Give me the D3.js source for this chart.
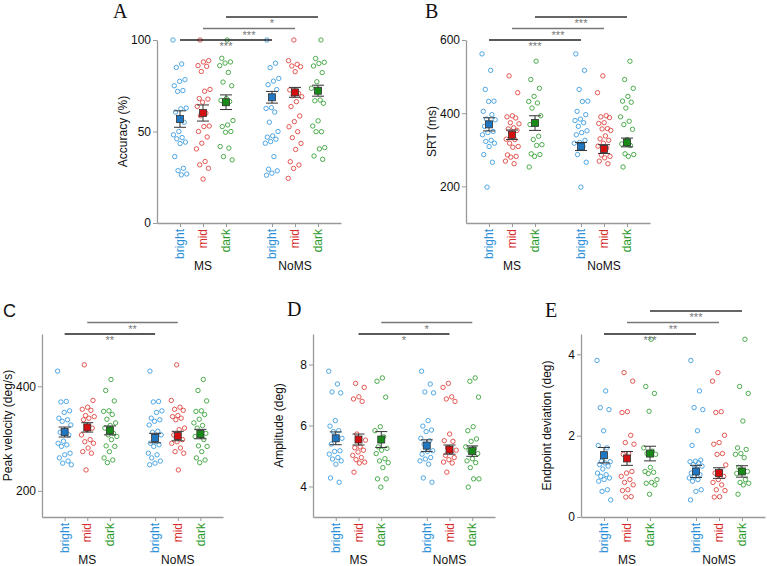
<!DOCTYPE html>
<html>
<head>
<meta charset="utf-8">
<script src="https://cdn.jsdelivr.net/npm/d3@7"></script>
<style>
  body { margin: 0; background: #fff; }
  svg { display: block; font-family: "Liberation Sans", Arial, sans-serif; }
</style>
</head>
<body>
<svg id="chart" width="767" height="566"></svg>
<script>
// groups / conditions
const groups = ['MS', 'NoMS']
const conditions = ['bright', 'mid', 'dark']
const pointColors = ['#3d9de0', '#e0453f', '#3aa33a']
const meanColors = ['#1f77c2', '#d40f0f', '#178a17']
const labelColors = ['#2b8fd8', '#d62a2a', '#2a9a2a']

// A - Accuracy (%)
const accMSBright = [100, 86.9, 85, 78.3, 77.4, 75, 72.4, 71.9, 62.8, 62.4, 60.6, 55, 50, 48.2, 46.7, 46, 44.2, 43.4, 36.3, 29.9, 28.6, 26.8, 26.3]
const accMSMid = [100, 88.7, 88, 86, 85.6, 82.8, 73, 72, 68, 67.7, 66, 63.7, 60, 58.6, 53, 52.7, 50, 47, 43.6, 40.5, 33.6, 31.8, 29.9, 24]
const accMSDark = [100, 90, 88, 87.4, 86, 82.3, 77, 75, 68, 67, 66.4, 65.5, 56, 53.6, 52.7, 50, 49.6, 41.8, 40.9, 36.3, 34.5]
const accNoMSBright = [100, 87.3, 84.9, 79, 77.5, 75.6, 72.9, 63, 62.6, 60.6, 55.1, 50, 47.6, 46.9, 45.8, 44.5, 43.6, 36.3, 29.4, 28.5, 27.2, 26.1]
const accNoMSMid = [100, 88.7, 86.7, 85.8, 85.4, 82.7, 72.7, 70.9, 70, 69, 66.3, 63.6, 58.5, 55.4, 52.6, 49.9, 46.6, 43.5, 40.2, 33.5, 31.7, 29.8, 24.4]
const accNoMSDark = [100, 89.9, 87.8, 87.2, 85.8, 82.2, 77.2, 73.6, 67.2, 66.8, 65.4, 55.8, 53, 49.9, 49.9, 41.2, 40.5, 36.6, 34.8]
const accMeans = [56.8, 60.1, 66, 68.7, 71.4, 72.3]
const accSem = [4.5, 4.4, 4, 3.2, 2.7, 3]
const accTicks = [0, 50, 100]

// B - SRT (ms)
const srtMSBright = [562, 517, 465, 433, 432, 405, 396, 384, 382, 371, 364, 350, 347, 341, 326, 323, 318, 309, 287, 266, 198]
const srtMSMid = [502, 456, 393, 390, 387, 374, 371, 360, 357, 353, 337, 329, 328, 318, 309, 307, 286, 282, 280, 269, 262]
const srtMSDark = [542, 492, 468, 446, 432, 428, 414, 393, 378, 369, 337, 328, 314, 312, 289, 287, 282, 253]
const srtNoMSBright = [562, 517, 465, 433, 432, 405, 396, 384, 380, 374, 364, 352, 347, 341, 326, 320, 318, 309, 287, 266, 198]
const srtNoMSMid = [502, 456, 393, 390, 388, 374, 372, 358, 357, 353, 338, 330, 326, 318, 310, 305, 286, 282, 278, 269, 262]
const srtNoMSDark = [542, 492, 468, 446, 433, 430, 414, 390, 378, 369, 356, 328, 316, 312, 289, 287, 282, 253]
const srtMeans = [369.5, 341, 373, 309, 302, 320]
const srtSem = [18, 13, 20, 11, 12, 12]
const srtTicks = [200, 400, 600]

// C - Peak velocity (deg/s)
const pvMSBright = [429, 371, 370, 353, 350, 339, 336, 333, 326, 314, 312, 307, 295, 291, 288, 285, 272, 269, 263, 257, 253, 250]
const pvMSMid = [441, 373, 360, 356, 354, 344, 342, 339, 336, 320, 317, 307, 298, 294, 291, 282, 275, 272, 240]
const pvMSDark = [413, 392, 372, 353, 352, 346, 337, 330, 325, 320, 310, 307, 304, 298, 286, 285, 275, 263, 259, 254]
const pvNoMSBright = [429, 371, 370, 353, 350, 339, 336, 333, 326, 314, 312, 307, 295, 291, 288, 285, 272, 269, 263, 257, 253, 250]
const pvNoMSMid = [441, 373, 360, 356, 354, 344, 342, 339, 336, 320, 317, 307, 298, 294, 291, 282, 275, 272, 240]
const pvNoMSDark = [413, 392, 372, 353, 352, 346, 337, 330, 325, 320, 310, 307, 304, 298, 286, 285, 275, 263, 259, 254]
const pvMeans = [312.5, 321.4, 315.6, 301, 304.8, 308.6]
const pvSem = [9.5, 9, 8.5, 9, 9, 9]
const pvTicks = [200, 400]

// D - Amplitude (deg)
const ampMSBright = [7.78, 7.36, 7.1, 7.07, 6.16, 5.98, 5.83, 5.8, 5.58, 5.54, 5.39, 5.17, 5.15, 5.06, 4.95, 4.9, 4.84, 4.73, 4.28, 4.14]
const ampMSMid = [7.38, 7.25, 6.94, 6.87, 6.79, 5.72, 5.52, 5.3, 5.27, 5.19, 5.13, 5.02, 4.95, 4.88, 4.8, 4.77, 4.47]
const ampMSDark = [7.56, 7.45, 6.93, 5.96, 5.83, 5.63, 5.3, 5.25, 5.19, 5.08, 4.91, 4.84, 4.78, 4.62, 4.25, 4.25, 3.98]
const ampNoMSBright = [7.78, 7.36, 7.1, 7.07, 6.16, 5.98, 5.85, 5.8, 5.58, 5.5, 5.39, 5.17, 5.15, 5.06, 4.95, 4.9, 4.84, 4.73, 4.28, 4.14]
const ampNoMSMid = [7.38, 7.25, 6.94, 6.87, 6.79, 5.72, 5.5, 5.48, 5.27, 5.19, 5.13, 5.02, 4.95, 4.88, 4.8, 4.77, 4.47]
const ampNoMSDark = [7.56, 7.45, 6.93, 5.96, 5.83, 5.56, 5.48, 5.3, 5.25, 5.19, 5.08, 4.91, 4.84, 4.78, 4.62, 4.25, 4.25, 3.98]
const ampMeans = [5.58, 5.54, 5.54, 5.34, 5.21, 5.16]
const ampSem = [0.21, 0.18, 0.26, 0.19, 0.15, 0.17]
const ampTicks = [4, 6, 8]

// E - Endpoint deviation (deg)
const edMSBright = [3.85, 3.1, 2.69, 2.64, 2.12, 1.76, 1.7, 1.37, 1.36, 1.33, 1.29, 1.25, 1.18, 1.08, 1.04, 1.0, 0.96, 0.92, 0.88, 0.67, 0.63, 0.42]
const edMSMid = [3.55, 3.34, 2.59, 2.57, 2.01, 1.83, 1.79, 1.56, 1.54, 1.12, 1.08, 1.0, 0.92, 0.85, 0.79, 0.67, 0.65, 0.5, 0.49]
const edMSDark = [4.37, 3.21, 3.04, 2.6, 1.7, 1.62, 1.56, 1.54, 1.22, 1.12, 1.1, 1.07, 0.92, 0.85, 0.83, 0.79, 0.56]
const edNoMSBright = [3.85, 3.1, 2.69, 2.64, 2.12, 1.76, 1.4, 1.37, 1.36, 1.33, 1.29, 1.25, 1.18, 1.08, 1.04, 1.0, 0.96, 0.92, 0.88, 0.67, 0.63, 0.42]
const edNoMSMid = [3.55, 3.34, 2.59, 2.57, 2.01, 1.83, 1.79, 1.56, 1.54, 1.28, 1.12, 1.08, 1.0, 0.92, 0.85, 0.79, 0.67, 0.65, 0.5, 0.49]
const edNoMSDark = [4.37, 3.21, 3.04, 2.36, 1.7, 1.66, 1.56, 1.54, 1.46, 1.22, 1.12, 1.1, 1.07, 0.92, 0.85, 0.83, 0.79, 0.56]
const edMeans = [1.52, 1.44, 1.56, 1.12, 1.08, 1.12]
const edSem = [0.19, 0.17, 0.18, 0.15, 0.13, 0.14]
const edTicks = [0, 2, 4]

// significance: [condition index, level, label]
const accSig = [[0, 0, '***'], [1, 1, '***'], [2, 2, '*']]
const srtSig = [[0, 0, '***'], [1, 1, '***'], [2, 2, '***']]
const pvSig = [[0, 0, '**'], [1, 1, '**']]
const ampSig = [[1, 0, '*'], [2, 1, '*']]
const edSig = [[0, 0, '***'], [1, 1, '**'], [2, 2, '***']]

const panels = [
  { title: 'A', serif: true, tx: 113, ty: 18, left: 157, top: 40, bottom: 223, width: 184, domain: [0, 100],
    ticks: accTicks, label: 'Accuracy (%)', means: accMeans, sem: accSem, sig: accSig,
    points: [accMSBright, accMSMid, accMSDark, accNoMSBright, accNoMSMid, accNoMSDark] },
  { title: 'B', serif: true, tx: 425, ty: 18, left: 466, top: 40, bottom: 223, width: 184, domain: [100, 600],
    ticks: srtTicks, label: 'SRT (ms)', means: srtMeans, sem: srtSem, sig: srtSig,
    points: [srtMSBright, srtMSMid, srtMSDark, srtNoMSBright, srtNoMSMid, srtNoMSDark] },
  { title: 'C', serif: false, tx: 3, ty: 317, left: 42, top: 334, bottom: 517, width: 181, domain: [150, 500],
    ticks: pvTicks, label: 'Peak velocity (deg/s)', means: pvMeans, sem: pvSem, sig: pvSig,
    points: [pvMSBright, pvMSMid, pvMSDark, pvNoMSBright, pvNoMSMid, pvNoMSDark] },
  { title: 'D', serif: true, tx: 287, ty: 316, left: 313, top: 334, bottom: 517, width: 182, domain: [3, 9],
    ticks: ampTicks, label: 'Amplitude (deg)', means: ampMeans, sem: ampSem, sig: ampSig,
    points: [ampMSBright, ampMSMid, ampMSDark, ampNoMSBright, ampNoMSMid, ampNoMSDark] },
  { title: 'E', serif: true, tx: 545, ty: 317, left: 581, top: 334, bottom: 517, width: 184, domain: [0, 4.5],
    ticks: edTicks, label: 'Endpoint deviation (deg)', means: edMeans, sem: edSem, sig: edSig,
    points: [edMSBright, edMSMid, edMSDark, edNoMSBright, edNoMSMid, edNoMSDark] }
]

const svg = d3.select('#chart')
const jitter = d3.scaleLinear().domain([0, 1]).range([-7, 7])
const sigColors = ['#222', '#777', '#333']

panels.forEach(p => {
  const g = svg.append('g')
  const x = d3.scaleLinear().domain([0, 8]).range([p.left, p.left + p.width])
  const y = d3.scaleLinear().domain(p.domain).range([p.bottom, p.top])
  // slot position of a group / condition
  const slot = (gi, ci) => gi * 4 + ci + 1

  // title
  g.append('text')
    .attr('x', p.tx)
    .attr('y', p.ty)
    .style('font-family', p.serif ? '"Liberation Serif", "DejaVu Serif", serif' : '"Liberation Sans", Arial, sans-serif')
    .style('font-size', p.serif ? '20px' : '18px')
    .style('fill', '#111')
    .text(p.title)

  // y axis
  const ya = g.append('g')
    .attr('transform', `translate(${p.left},0)`)
    .call(d3.axisLeft(y).tickValues(p.ticks).tickFormat(d3.format('~g')).tickSize(4).tickPadding(2).tickSizeOuter(0))
  ya.select('.domain').attr('stroke', '#999').attr('stroke-width', 1.3)
  ya.selectAll('.tick line').attr('stroke', '#999')
  ya.selectAll('.tick text').style('font-size', '12px').style('fill', '#111').style('font-family', '"Liberation Sans", Arial, sans-serif')

  // x axis
  const xa = g.append('g')
    .attr('transform', `translate(0,${p.bottom})`)
    .call(d3.axisBottom(x).tickValues([1, 2, 3, 5, 6, 7]).tickFormat('').tickSize(4).tickSizeOuter(0))
  xa.select('.domain').attr('stroke', '#999').attr('stroke-width', 1.3)
  xa.selectAll('.tick line').attr('stroke', '#999')

  groups.forEach((grp, gi) => {
    conditions.forEach((c, ci) => {
      g.append('text')
        .attr('transform', `translate(${x(slot(gi, ci))},${p.bottom + 6}) rotate(-90)`)
        .attr('dy', '0.35em')
        .attr('text-anchor', 'end')
        .style('font-size', '12px')
        .style('fill', labelColors[ci])
        .text(c)
    })
    g.append('text')
      .attr('x', x(slot(gi, 1)))
      .attr('y', p.bottom + 47)
      .attr('text-anchor', 'middle')
      .style('font-size', '12px')
      .style('fill', '#111')
      .text(grp)
  })

  // y label
  g.append('text')
    .attr('transform', `translate(${p.left - 30},${(p.top + p.bottom) / 2}) rotate(-90)`)
    .attr('text-anchor', 'middle')
    .style('font-size', '12px')
    .style('fill', '#111')
    .text(p.label)

  // individual points
  p.points.forEach((vals, k) => {
    const gi = Math.floor(k / 3)
    const ci = k % 3
    const cx = x(slot(gi, ci))
    g.append('g').selectAll('circle').data(vals).enter()
      .append('circle')
      .attr('cx', (d, i) => cx + jitter((i * 0.618034 + ci * 0.29 + gi * 0.13) % 1))
      .attr('cy', d => y(d))
      .attr('r', 2.2)
      .style('fill', 'none')
      .style('stroke', pointColors[ci])
      .style('stroke-width', 0.9)
  })

  // mean +- sem
  p.means.forEach((m, k) => {
    const gi = Math.floor(k / 3)
    const ci = k % 3
    const cx = x(slot(gi, ci))
    const s = p.sem[k]
    const eg = g.append('g').style('stroke', '#333').style('stroke-width', 1)
    eg.append('line').attr('x1', cx).attr('x2', cx).attr('y1', y(m - s)).attr('y2', y(m + s))
    eg.append('line').attr('x1', cx - 6).attr('x2', cx + 6).attr('y1', y(m - s)).attr('y2', y(m - s))
    eg.append('line').attr('x1', cx - 6).attr('x2', cx + 6).attr('y1', y(m + s)).attr('y2', y(m + s))
    g.append('rect')
      .attr('x', cx - 3.5)
      .attr('y', y(m) - 3.5)
      .attr('width', 7)
      .attr('height', 7)
      .style('fill', meanColors[ci])
      .style('stroke', '#333')
      .style('stroke-width', 0.8)
  })

  // significance lines
  p.sig.forEach(([ci, lvl, lab]) => {
    const ly = p.top - lvl * 11.5
    const x1 = x(slot(0, ci))
    const x2 = x(slot(1, ci))
    g.append('line')
      .attr('x1', x1).attr('x2', x2)
      .attr('y1', ly).attr('y2', ly)
      .style('stroke', sigColors[lvl])
      .style('stroke-width', 1.3)
    g.append('text')
      .attr('x', (x1 + x2) / 2)
      .attr('y', ly + 10)
      .attr('text-anchor', 'middle')
      .style('font-size', '11px')
      .style('fill', '#777')
      .text(lab)
  })
})
</script>
</body>
</html>
